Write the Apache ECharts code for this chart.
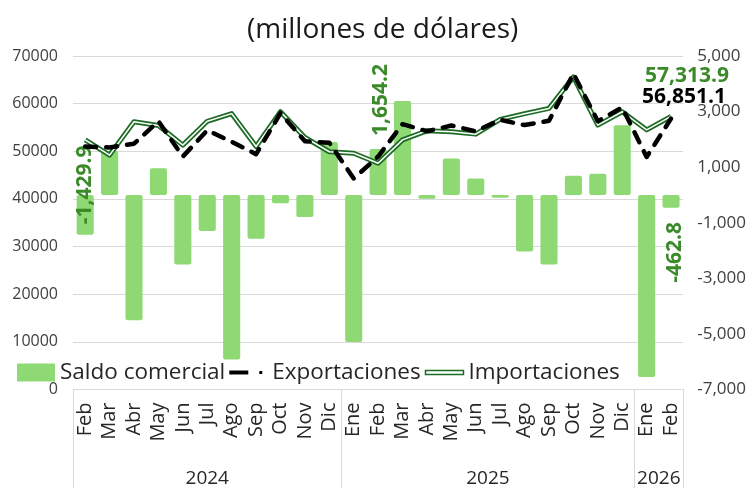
<!DOCTYPE html>
<html>
<head>
<meta charset="utf-8">
<script src="https://cdn.jsdelivr.net/npm/echarts@6/dist/echarts.min.js"></script>
<style>
  html, body { margin: 0; padding: 0; background: #fff; }
  #main { width: 749px; height: 489px; }
</style>
</head>
<body>
<div id="main"></div>
<script>
// datos (millones de dolares)
var meses = ['Feb','Mar','Abr','May','Jun','Jul','Ago','Sep','Oct','Nov','Dic',
             'Ene','Feb','Mar','Abr','May','Jun','Jul','Ago','Sep','Oct','Nov','Dic',
             'Ene','Feb'];
var anios = ['2024', '2025', '2026'];
var mesesPorAnio = [11, 12, 2];

var saldo = [-1429.9, 1580, -4510, 960, -2500, -1300, -5920, -1580, -300, -790, 1910,
             -5290, 1654.2, 3380, -140, 1310, 590, -100, -2030, -2500, 690, 760, 2510,
             -6550, -462.8];
var exportaciones = [51000, 50800, 51600, 56300, 48900, 54400, 52000, 49400, 58000, 52100, 51800,
                     44300, 48900, 55700, 54200, 55400, 54200, 56600, 55500, 56400, 66300, 56300, 59200,
                     48800, 56851.1];
var importaciones = [52400, 49200, 56200, 55400, 51300, 56300, 57900, 51000, 58300, 52900, 49900,
                     49600, 47500, 52400, 54300, 54100, 53600, 56700, 57900, 59000, 65600, 55500, 58300,
                     54500, 57313.9];

var ticksSaldo = [-7000, -5000, -3000, -1000, 1000, 3000, 5000];

var VERDE_TXT = '#3B8A2A';
var VERDE_LINEA = '#1D6B24';
var FUENTE = 'Open Sans';

// lineas separadoras y centros de los anios
var limites = [0], centros = [];
mesesPorAnio.forEach(function (n, i) {
    centros.push(limites[i] + n / 2);
    limites.push(limites[i] + n);
});

var fmt = function (v, d) {
    return Number(v).toLocaleString('en-US', {minimumFractionDigits: d, maximumFractionDigits: d});
};

// solo se etiquetan algunos meses de saldo
// (offset va en el marco rotado: [hacia arriba, hacia la derecha])
var etiquetasSaldo = {
    0: {offset: [30, 0]},
    12: {offset: [72, 3]},
    24: {offset: [-51, 4]}
};
var saldoData = saldo.map(function (v, i) {
    var e = etiquetasSaldo[i];
    if (!e) return v;
    return {
        value: v,
        label: {
            show: true, position: 'inside', rotate: 90, offset: e.offset,
            color: VERDE_TXT, fontFamily: FUENTE, fontWeight: 'bold', fontSize: 21,
            formatter: function (p) { return fmt(p.value, 1); }
        }
    };
});

var myChart = echarts.init(document.getElementById('main'));
var option = {
    animation: false,
    backgroundColor: '#fff',
    title: {
        text: '(millones de dólares)',
        left: 242, top: 11,
        textStyle: {fontFamily: FUENTE, fontSize: 28, fontWeight: 'normal', color: '#1a1a1a'}
    },
    legend: {
        left: 17, top: 361, padding: 0,
        itemWidth: 38, itemHeight: 18, itemGap: 4,
        textStyle: {fontFamily: FUENTE, fontSize: 22.5, color: '#262626'},
        data: [
            {name: 'Saldo comercial', icon: 'rect'},
            {name: 'Exportaciones', icon: 'path://M0,0M38,18M0,7H19V11H0ZM30,7.5H33V10.5H30Z',
             itemStyle: {color: '#000', borderWidth: 0}},
            {name: 'Importaciones', icon: 'path://M0,0M38,18M0,7H38V11H0Z',
             itemStyle: {color: '#fff', borderColor: VERDE_LINEA, borderWidth: 1.5}}
        ]
    },
    grid: {left: 73, right: 63, top: 56, bottom: 99.5},
    xAxis: [
        {
            type: 'category',
            data: meses,
            axisLine: {lineStyle: {color: '#d9d9d9'}},
            axisTick: {
                show: true, length: 99,
                interval: function (i) { return limites.indexOf(i) >= 0; },
                lineStyle: {color: '#d9d9d9'}
            },
            axisLabel: {interval: 0, rotate: 90, margin: 13, fontFamily: FUENTE, fontSize: 20, color: '#262626'}
        },
        {
            type: 'value',
            position: 'bottom',
            min: 0, max: meses.length,
            axisLine: {show: false},
            splitLine: {show: false},
            axisTick: {show: false},
            axisLabel: {
                customValues: centros, margin: 80,
                fontFamily: FUENTE, fontSize: 19, color: '#262626',
                formatter: function (v) { return anios[centros.indexOf(v)]; }
            }
        }
    ],
    yAxis: [
        {
            type: 'value',
            min: 0, max: 70000, interval: 10000,
            axisLine: {show: false}, axisTick: {show: false},
            splitLine: {lineStyle: {color: '#d9d9d9'}},
            axisLabel: {
                margin: 15, fontFamily: FUENTE, fontSize: 16, color: '#404040',
                formatter: function (v) { return String(v); }
            }
        },
        {
            type: 'value',
            min: -7000, max: 5000,
            axisLine: {show: false},
            axisTick: {show: false},
            splitLine: {show: false},
            axisLabel: {
                customValues: ticksSaldo, margin: 14,
                fontFamily: FUENTE, fontSize: 17, color: '#404040',
                formatter: function (v) { return fmt(v, 0); }
            }
        }
    ],
    series: [
        {
            name: 'Saldo comercial',
            type: 'bar',
            yAxisIndex: 1,
            barWidth: '70%',
            itemStyle: {color: '#8ED973', borderRadius: 2},
            data: saldoData
        },
        {
            name: 'Importaciones',
            type: 'line',
            symbol: 'none',
            z: 3,
            lineStyle: {color: VERDE_LINEA, width: 5, join: 'round'},
            itemStyle: {color: VERDE_LINEA},
            endLabel: {
                show: true, offset: [-34, -40],
                color: VERDE_TXT, fontFamily: FUENTE, fontWeight: 'bold', fontSize: 21,
                formatter: function (p) { return fmt(p.value, 1); }
            },
            data: importaciones
        },
        {
            name: 'Importaciones',
            type: 'line',
            symbol: 'none',
            silent: true,
            z: 4,
            lineStyle: {color: '#ffffff', width: 1.5, join: 'round'},
            data: importaciones
        },
        {
            name: 'Exportaciones',
            type: 'line',
            symbol: 'none',
            z: 5,
            lineStyle: {color: '#000', width: 4.5, type: [11, 10], cap: 'round', join: 'round'},
            itemStyle: {color: '#000'},
            endLabel: {
                show: true, offset: [-37, -22],
                color: '#000', fontFamily: FUENTE, fontWeight: 'bold', fontSize: 21,
                formatter: function (p) { return fmt(p.value, 1); }
            },
            data: exportaciones
        }
    ]
};
myChart.setOption(option);
</script>
</body>
</html>
